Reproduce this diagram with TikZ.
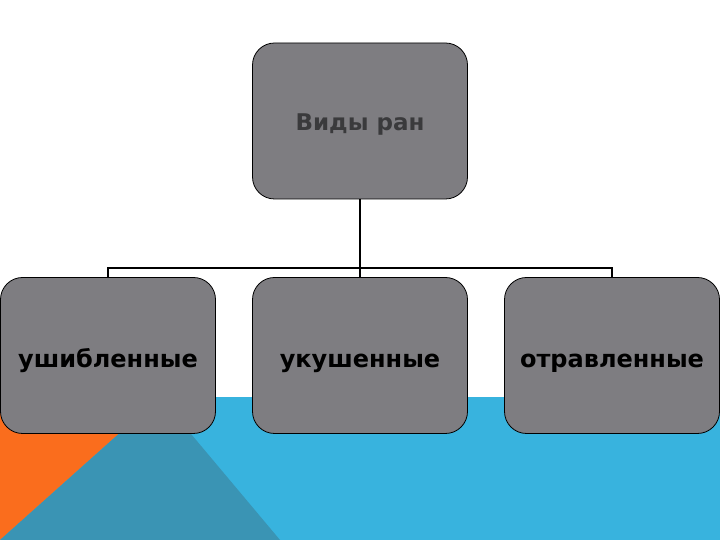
\documentclass[tikz,border=0pt]{standalone}
\usepackage{fontspec}
\setmainfont{DejaVu Sans}
\usetikzlibrary{positioning}

\definecolor{boxgray}{HTML}{7E7D81}
\definecolor{bandblue}{HTML}{38B3DE}
\definecolor{bandteal}{HTML}{3A94B4}
\definecolor{bandorange}{HTML}{FA6D1D}
\definecolor{titlegray}{HTML}{3A3A3C}

\tikzset{
  kind/.style={draw=black, line width=0.8pt, fill=boxgray, rounded corners=22pt,
    minimum width=215pt, minimum height=156pt, inner sep=0pt,
    text height=25pt, text depth=0pt,
    font=\bfseries\fontsize{24}{28}\selectfont},
  root/.style={kind, text=titlegray, text height=20pt,
    font=\bfseries\fontsize{23}{27}\selectfont},
  link/.style={draw=black, line width=1.6pt}
}

\begin{document}
\begin{tikzpicture}[x=1pt, y=1pt]
% background
\useasboundingbox (0,0) rectangle (720,540);
\fill[white] (0,0) rectangle (720,540);
\fill[bandblue] (0,0) rectangle (720,143);
\fill[bandorange] (0,143) -- (160,143) -- (0,0) -- cycle;
\fill[bandteal] (160,143) -- (280,0) -- (0,0) -- cycle;

% boxes
\node[root] (types) at (360,419) {Виды ран};
\node[kind] (bruised) at (108,184.5) {ушибленные};
\node[kind] (bitten) at (360,184.5) {укушенные};
\node[kind] (poisoned) at (612,184.5) {отравленные};

% connectors
\coordinate (bus) at (360,272);
\draw[link] (types.south) -- (bus);
\draw[link] (bus) -| (bruised.north);
\draw[link] (bus) -| (poisoned.north);
\draw[link] (bus) -- (bitten.north);
\end{tikzpicture}
\end{document}
